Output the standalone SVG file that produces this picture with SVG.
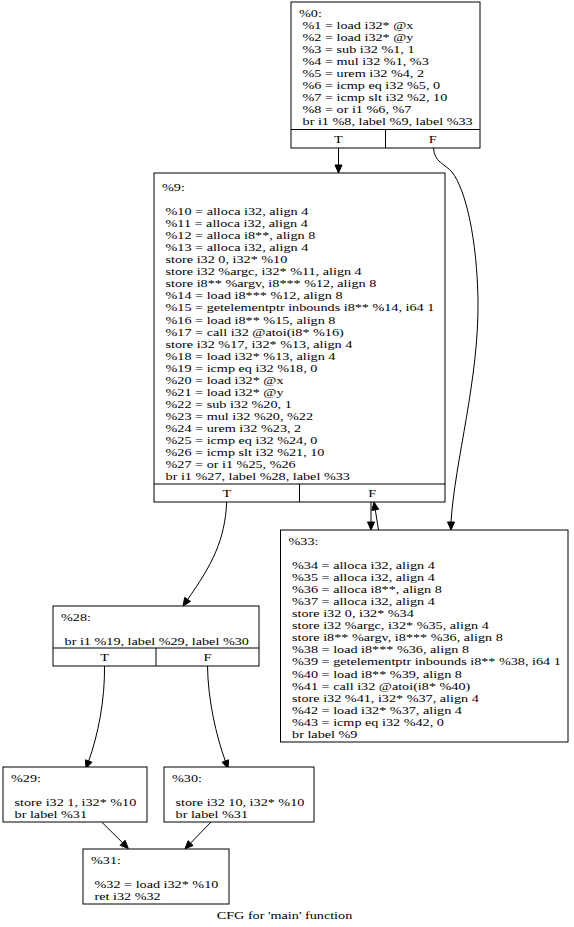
<svg xmlns="http://www.w3.org/2000/svg" width="574" height="927" viewBox="0 0 574 927">
<style>
.t{font-family:"Liberation Serif","Times New Roman",serif;font-size:14.2px;fill:#000}
.c{text-anchor:middle}
.box{fill:#fff;stroke:#000;stroke-width:1}
.sep{fill:none;stroke:#000;stroke-width:1}
.edge{fill:none;stroke:#000;stroke-width:1}
.head{fill:#000;stroke:#000;stroke-width:1}
</style>
<rect x="0" y="0" width="574" height="927" fill="#fff"/>

<g id="edges">
  <path class="edge" d="M338.5,148 L338.5,165"/>
  <polygon class="head" points="335,165 342,165 338.5,173"/>
  <path class="edge" d="M433.5,148 C434,162 445,164 452,172 C466,190 477,240 478,300 C479,380 455,460 451,522"/>
  <polygon class="head" points="447.5,522 454.5,522 451,530"/>
  <path class="edge" d="M371,502 L371,522"/>
  <polygon class="head" points="367.5,522 374.5,522 371,530"/>
  <path class="edge" d="M378.5,530 L375.3,509.9"/>
  <polygon class="head" points="378.7,509.3 371.8,510.4 374,502"/>
  <path class="edge" d="M226.7,502 C225,540 212,565 187.6,599.4"/>
  <polygon class="head" points="190.5,601.4 184.7,597.4 183,606"/>
  <path class="edge" d="M104.5,666 C105,700 98,735 88.7,761"/>
  <polygon class="head" points="92,762.2 85.4,759.8 86,768.5"/>
  <path class="edge" d="M207.5,666 C208,700 216,735 225.3,761"/>
  <polygon class="head" points="228.6,759.8 222,762.2 228,768.5"/>
  <path class="edge" d="M101.7,822 L122.6,842.8"/>
  <polygon class="head" points="120.1,845.3 125.1,840.3 128.3,848.5"/>
  <path class="edge" d="M211,822 L190.6,843.1"/>
  <polygon class="head" points="193.1,845.5 188.1,840.7 185,848.8"/>
</g>

<g id="n0">
  <rect class="box" x="291" y="2" width="189" height="146"/>
  <path class="sep" d="M291,129.5 H480 M385.5,129.5 V148"/>
  <text class="t" transform="translate(299,17) scale(1,0.8)"><tspan x="0" y="0">%0:</tspan><tspan x="3.55" dy="15.06">%1 = load i32* @x</tspan><tspan x="3.55" dy="15.06">%2 = load i32* @y</tspan><tspan x="3.55" dy="15.06">%3 = sub i32 %1, 1</tspan><tspan x="3.55" dy="15.06">%4 = mul i32 %1, %3</tspan><tspan x="3.55" dy="15.06">%5 = urem i32 %4, 2</tspan><tspan x="3.55" dy="15.06">%6 = icmp eq i32 %5, 0</tspan><tspan x="3.55" dy="15.06">%7 = icmp slt i32 %2, 10</tspan><tspan x="3.55" dy="15.06">%8 = or i1 %6, %7</tspan><tspan x="3.55" dy="15.06">br i1 %8, label %9, label %33</tspan></text>
  <text class="t c" transform="translate(338.3,142.7) scale(1,0.8)">T</text>
  <text class="t c" transform="translate(432.8,142.7) scale(1,0.8)">F</text>
</g>

<g id="n9">
  <rect class="box" x="154" y="173" width="291" height="329"/>
  <path class="sep" d="M154,484 H445 M299.5,484 V502"/>
  <text class="t" transform="translate(162,191) scale(1,0.8)"><tspan x="0" y="0">%9:</tspan><tspan x="3.55" dy="30.12">%10 = alloca i32, align 4</tspan><tspan x="3.55" dy="15.06">%11 = alloca i32, align 4</tspan><tspan x="3.55" dy="15.06">%12 = alloca i8**, align 8</tspan><tspan x="3.55" dy="15.06">%13 = alloca i32, align 4</tspan><tspan x="3.55" dy="15.06">store i32 0, i32* %10</tspan><tspan x="3.55" dy="15.06">store i32 %argc, i32* %11, align 4</tspan><tspan x="3.55" dy="15.06">store i8** %argv, i8*** %12, align 8</tspan><tspan x="3.55" dy="15.06">%14 = load i8*** %12, align 8</tspan><tspan x="3.55" dy="15.06">%15 = getelementptr inbounds i8** %14, i64 1</tspan><tspan x="3.55" dy="15.06">%16 = load i8** %15, align 8</tspan><tspan x="3.55" dy="15.06">%17 = call i32 @atoi(i8* %16)</tspan><tspan x="3.55" dy="15.06">store i32 %17, i32* %13, align 4</tspan><tspan x="3.55" dy="15.06">%18 = load i32* %13, align 4</tspan><tspan x="3.55" dy="15.06">%19 = icmp eq i32 %18, 0</tspan><tspan x="3.55" dy="15.06">%20 = load i32* @x</tspan><tspan x="3.55" dy="15.06">%21 = load i32* @y</tspan><tspan x="3.55" dy="15.06">%22 = sub i32 %20, 1</tspan><tspan x="3.55" dy="15.06">%23 = mul i32 %20, %22</tspan><tspan x="3.55" dy="15.06">%24 = urem i32 %23, 2</tspan><tspan x="3.55" dy="15.06">%25 = icmp eq i32 %24, 0</tspan><tspan x="3.55" dy="15.06">%26 = icmp slt i32 %21, 10</tspan><tspan x="3.55" dy="15.06">%27 = or i1 %25, %26</tspan><tspan x="3.55" dy="15.06">br i1 %27, label %28, label %33</tspan></text>
  <text class="t c" transform="translate(226.8,497) scale(1,0.8)">T</text>
  <text class="t c" transform="translate(372.3,497) scale(1,0.8)">F</text>
</g>

<g id="n33">
  <rect class="box" x="280.5" y="530" width="287.5" height="212"/>
  <text class="t" transform="translate(288.5,545) scale(1,0.8)"><tspan x="0" y="0">%33:</tspan><tspan x="3.55" dy="30.12">%34 = alloca i32, align 4</tspan><tspan x="3.55" dy="15.06">%35 = alloca i32, align 4</tspan><tspan x="3.55" dy="15.06">%36 = alloca i8**, align 8</tspan><tspan x="3.55" dy="15.06">%37 = alloca i32, align 4</tspan><tspan x="3.55" dy="15.06">store i32 0, i32* %34</tspan><tspan x="3.55" dy="15.06">store i32 %argc, i32* %35, align 4</tspan><tspan x="3.55" dy="15.06">store i8** %argv, i8*** %36, align 8</tspan><tspan x="3.55" dy="15.06">%38 = load i8*** %36, align 8</tspan><tspan x="3.55" dy="15.06">%39 = getelementptr inbounds i8** %38, i64 1</tspan><tspan x="3.55" dy="15.06">%40 = load i8** %39, align 8</tspan><tspan x="3.55" dy="15.06">%41 = call i32 @atoi(i8* %40)</tspan><tspan x="3.55" dy="15.06">store i32 %41, i32* %37, align 4</tspan><tspan x="3.55" dy="15.06">%42 = load i32* %37, align 4</tspan><tspan x="3.55" dy="15.06">%43 = icmp eq i32 %42, 0</tspan><tspan x="3.55" dy="15.06">br label %9</tspan></text>
</g>

<g id="n28">
  <rect class="box" x="53" y="606" width="206" height="60"/>
  <path class="sep" d="M53,648 H259 M156,648 V666"/>
  <text class="t" transform="translate(61,621) scale(1,0.8)"><tspan x="0" y="0">%28:</tspan><tspan x="3.55" dy="30.12">br i1 %19, label %29, label %30</tspan></text>
  <text class="t c" transform="translate(104.5,661) scale(1,0.8)">T</text>
  <text class="t c" transform="translate(207.5,661) scale(1,0.8)">F</text>
</g>

<g id="n29">
  <rect class="box" x="3" y="767" width="144" height="55"/>
  <text class="t" transform="translate(11,782) scale(1,0.8)"><tspan x="0" y="0">%29:</tspan><tspan x="3.55" dy="30.12">store i32 1, i32* %10</tspan><tspan x="3.55" dy="15.06">br label %31</tspan></text>
</g>

<g id="n30">
  <rect class="box" x="164" y="767" width="150" height="55"/>
  <text class="t" transform="translate(172,782) scale(1,0.8)"><tspan x="0" y="0">%30:</tspan><tspan x="3.55" dy="30.12">store i32 10, i32* %10</tspan><tspan x="3.55" dy="15.06">br label %31</tspan></text>
</g>

<g id="n31">
  <rect class="box" x="83" y="849" width="146" height="55"/>
  <text class="t" transform="translate(91,864) scale(1,0.8)"><tspan x="0" y="0">%31:</tspan><tspan x="3.55" dy="30.12">%32 = load i32* %10</tspan><tspan x="3.55" dy="15.06">ret i32 %32</tspan></text>
</g>

<text id="caption" class="t c" transform="translate(284.5,919) scale(1,0.8)">CFG for 'main' function</text>
</svg>
